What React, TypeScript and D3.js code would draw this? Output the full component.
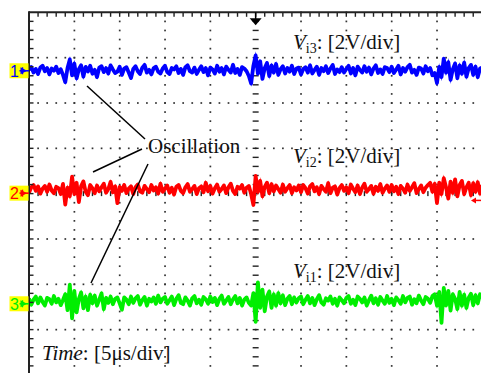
import React from "react";
import * as d3 from "d3";

// ---- data (volts, sampled uniformly over 10 time divisions, 2 V/div) ----
const CH1_VALUES = [
  0.02,0.15,-0.1,0.06,-0.16,0.12,0.2,-0.04,0.1,-0.18,0.08,-0.02,0.16,-0.12,0.05,-0.2,-0.52,0.1,0.48,-0.22,
  0.3,-0.35,0.05,0.22,-0.28,0.15,-0.05,0.2,-0.15,0.02,-0.3,0.12,0.18,-0.08,0.1,-0.14,0.22,0.04,-0.12,-0.06,
  0.16,-0.2,0.08,0.14,-0.1,-0.34,0.06,0.18,-0.04,-0.16,0.12,0.24,-0.1,0.02,-0.18,0.1,0.16,-0.06,-0.14,0.08,
  0.2,-0.08,-0.16,0.1,0.04,0.18,-0.12,0.06,-0.2,0.14,0.22,-0.04,-0.1,0.12,-0.16,0.02,0.18,-0.08,0.1,-0.22,
  0.12,0.04,-0.14,0.2,-0.06,0.1,-0.18,0.16,0.02,-0.1,0.24,-0.12,0.06,-0.2,0.14,0.08,-0.04,-0.25,-0.58,0.2,
  0.66,-0.15,0.4,-0.38,0.1,0.32,-0.25,0.22,-0.1,0.28,-0.2,0.05,0.18,-0.14,0.1,-0.06,0.2,-0.16,0.08,0.12,
  -0.18,0.06,0.14,-0.1,0.22,-0.14,0.02,0.16,-0.2,0.1,-0.04,0.18,-0.12,0.08,0.24,-0.16,0.04,-0.08,0.14,-0.1,
  0.06,0.2,-0.14,0.1,-0.22,0.16,0.02,-0.1,0.18,-0.06,0.12,-0.18,0.08,0.22,-0.12,0.04,-0.16,0.14,0.1,-0.08,
  0.16,-0.12,0.04,0.2,-0.18,0.1,-0.06,0.14,0.24,-0.1,0.02,-0.2,0.12,0.08,-0.14,0.18,-0.04,0.1,-0.22,-0.12,
  -0.56,0.15,-0.3,0.52,-0.1,0.36,-0.42,0.05,0.3,-0.35,0.22,-0.15,0.34,-0.28,0.1,0.24,-0.2,0.16,-0.3,0.08,0.12,
];
const CH2_VALUES = [
  -0.14,0.1,0.2,-0.06,0.14,-0.18,0.04,0.16,-0.1,0.22,-0.04,-0.16,0.12,0.06,-0.2,0.25,-0.66,0.08,-0.3,0.57,
  -0.2,0.3,-0.55,0.15,0.36,-0.1,-0.25,0.2,0.05,-0.16,0.18,-0.08,0.1,0.26,-0.14,0.02,0.34,-0.12,0.14,-0.6,
  0.12,-0.06,0.2,-0.16,0.04,0.14,-0.2,0.1,0.22,-0.08,-0.14,0.16,0.02,-0.12,0.2,-0.04,0.1,-0.18,0.26,-0.1,
  0.04,0.18,-0.14,0.08,-0.22,0.12,0.2,-0.06,-0.16,0.1,0.24,-0.1,0.02,0.16,-0.2,0.06,0.14,-0.12,0.3,-0.08,
  0.16,-0.18,0.06,0.22,-0.1,0.02,0.18,-0.16,0.1,0.26,-0.06,-0.2,0.12,0.04,0.2,-0.14,0.08,0.16,-0.2,-0.68,
  0.6,-0.1,0.38,-0.3,0.12,0.3,-0.16,0.24,-0.08,0.18,0.02,-0.14,0.22,-0.1,0.06,0.2,-0.16,0.1,-0.04,0.18,
  -0.12,0.2,0.06,-0.18,0.14,0.24,-0.08,0.1,-0.2,0.16,0.02,-0.1,0.28,-0.16,0.08,0.14,-0.22,0.06,0.2,-0.06,
  0.1,-0.16,0.22,0.04,-0.12,0.18,-0.2,0.08,0.26,-0.1,0.02,0.16,-0.18,0.12,-0.06,0.24,-0.14,0.04,0.18,-0.1,
  0.2,-0.08,0.12,-0.2,0.16,0.04,-0.14,0.22,-0.06,0.1,0.28,-0.16,0.02,0.18,-0.12,0.08,0.2,0.3,-0.1,0.25,
  -0.6,0.3,-0.2,0.5,0.1,-0.4,0.35,-0.15,0.45,-0.3,0.2,0.38,-0.2,0.1,0.3,-0.25,0.28,-0.1,0.32,-0.18,0.2,
];
const CH3_VALUES = [
  0.12,-0.16,0.06,0.2,-0.1,0.16,-0.04,-0.2,0.14,0.08,-0.12,0.22,-0.06,0.1,-0.18,0.05,0.3,-0.4,0.72,-0.76,
  0.45,-0.5,0.1,0.38,-0.32,0.2,-0.4,0.28,-0.1,0.24,-0.2,0.06,0.34,-0.36,0.14,-0.08,0.2,-0.14,0.1,0.16,
  -0.1,-0.38,0.16,0.06,-0.14,0.2,-0.08,0.12,0.22,-0.16,0.04,0.18,-0.2,0.1,-0.02,0.16,-0.12,0.24,-0.06,0.1,
  0.18,-0.12,0.04,0.2,-0.18,0.1,0.26,-0.08,-0.14,0.16,0.02,-0.2,0.12,0.22,-0.1,0.06,-0.16,0.18,0.08,-0.12,
  0.2,-0.04,0.14,-0.18,0.1,0.24,-0.12,0.02,0.18,-0.14,0.08,0.22,-0.1,0.14,-0.2,0.06,0.16,-0.08,-0.2,0.35,
  -0.92,0.82,-0.3,0.5,-0.45,0.2,0.42,-0.3,0.3,-0.2,0.35,-0.1,0.25,-0.18,0.1,0.22,-0.14,0.16,-0.06,0.12,
  0.2,-0.14,0.06,0.22,-0.1,0.14,-0.18,0.08,0.26,-0.06,-0.16,0.12,0.02,0.2,-0.12,0.1,-0.2,0.16,0.04,-0.1,
  0.14,0.22,-0.12,0.06,-0.18,0.2,0.1,-0.06,0.16,-0.2,0.04,0.24,-0.1,0.12,-0.16,0.18,0.02,-0.12,0.22,-0.08,
  0.1,-0.18,0.16,0.04,-0.12,0.22,-0.06,0.14,0.2,-0.16,0.08,-0.1,0.24,0.02,-0.14,0.18,0.1,-0.08,0.22,0.3,
  -0.2,0.4,-0.96,0.58,-0.2,0.45,-0.42,0.3,0.1,-0.35,0.4,-0.2,0.28,-0.3,0.15,0.32,-0.18,0.26,-0.1,0.3,0.14,
];
const CHANNELS = ["1", "2", "3"];
const CHANNEL_SERIES = [CH1_VALUES, CH2_VALUES, CH3_VALUES];
const CHANNEL_OFFSETS_DIV = [2.72, 0.09, -2.37];
const MARKER_OFFSETS_DIV = [2.71, 0.01, -2.43];
const CHANNEL_LABELS = ["i3", "i2", "i1"];
const LABEL_BASE_DIV = [3.2, 0.67, -1.86];
const VOLTS_PER_DIV = 2;
const TIME_DIVS = 10;
const VOLT_DIVS = 8;

const COLORS = ["#0000ff", "#ff0000", "#00ee00"];

export default function App() {
  const left = 29, top = 12.3, div = 45.33;
  const x = d3.scaleLinear().domain([0, TIME_DIVS]).range([left, left + TIME_DIVS * div]);
  const y = d3.scaleLinear().domain([-VOLT_DIVS / 2, VOLT_DIVS / 2]).range([top + VOLT_DIVS * div, top]);
  const minor = div / 5;

  const dots: JSX.Element[] = [];
  for (let i = 1; i < TIME_DIVS; i++) {
    if (i === 5) continue;
    for (let k = 0; k <= VOLT_DIVS * 5; k++) {
      dots.push(<rect key={`v${i}-${k}`} x={x(i) - 0.8} y={top + k * minor - 0.8} width={1.7} height={1.7} fill="#333" />);
    }
  }
  for (let j = 1; j < VOLT_DIVS; j++) {
    if (j === 4) continue;
    for (let k = 0; k <= TIME_DIVS * 5; k++) {
      dots.push(<rect key={`h${j}-${k}`} x={left + k * minor - 0.8} y={top + j * div - 0.8} width={1.7} height={1.7} fill="#333" />);
    }
  }
  const cx = x(5), cy = y(0);
  const centerTicks: JSX.Element[] = [];
  for (let k = 1; k <= VOLT_DIVS * 5; k++) {
    const yy = top + k * minor;
    centerTicks.push(<rect key={`cv${k}`} x={cx - 3} y={yy - 0.7} width={6} height={1.4} fill="#222" />);
  }
  for (let k = 1; k <= TIME_DIVS * 5; k++) {
    const xx = left + k * minor;
    centerTicks.push(<rect key={`ch${k}`} x={xx - 0.7} y={cy - 2.5} width={1.4} height={5} fill="#222" />);
  }
  const borderTicks: JSX.Element[] = [];
  for (let k = 1; k <= VOLT_DIVS * 5; k++) {
    borderTicks.push(<line key={`lt${k}`} x1={left} x2={left + 4.5} y1={top + k * minor} y2={top + k * minor} stroke="#222" strokeWidth={1.4} />);
  }
  for (let k = 1; k <= TIME_DIVS * 5; k++) {
    borderTicks.push(<line key={`tt${k}`} x1={left + k * minor} x2={left + k * minor} y1={top} y2={top + 4.5} stroke="#222" strokeWidth={1.4} />);
  }

  const traces = CHANNEL_SERIES.map((vals, c) => {
    const xi = d3.scaleLinear().domain([0, vals.length - 1]).range([x(0), x(TIME_DIVS)]);
    const line = d3.line<number>()
      .x((_, i) => xi(i))
      .y((v) => y(CHANNEL_OFFSETS_DIV[c] + v / VOLTS_PER_DIV))
      .curve(d3.curveLinear);
    return (
      <g key={c}>
        <path d={line(vals) || ""} fill="none" stroke={COLORS[c]} strokeWidth={3.8} strokeLinejoin="round" />
        <path d={line(vals) || ""} fill="none" stroke={COLORS[c]} strokeWidth={1.4} strokeLinejoin="miter" strokeMiterlimit={6} />
      </g>
    );
  });

  const serif = "'Liberation Serif', 'Times New Roman', serif";

  return (
    <svg width={481} height={373} style={{ position: "absolute", left: 0, top: 0, background: "#fff" }}>
      <rect x={0} y={0} width={481} height={373} fill="#fff" />
      {dots}
      {centerTicks}
      {traces}
      {borderTicks}
      <line x1={left} x2={left} y1={top - 1} y2={373} stroke="#222" strokeWidth={2} />
      <line x1={left} x2={481} y1={top} y2={top} stroke="#222" strokeWidth={2} />
      {/* trigger marker */}
      <line x1={cx} x2={cx} y1={top} y2={top + 7} stroke="#000" strokeWidth={1.5} />
      <path d={`M${cx - 6},${top + 6} L${cx + 6},${top + 6} L${cx},${top + 13} Z`} fill="#000" />
      {/* trigger level marker on right */}
      <path d={`M471,${y(-0.15)} L476,${y(-0.15) - 3} L476,${y(-0.15) + 3} Z`} fill="#ff0000" />
      <line x1={475} x2={481} y1={y(-0.15)} y2={y(-0.15)} stroke="#ff0000" strokeWidth={1.5} />
      {/* channel markers */}
      {CHANNELS.map((ch, c) => {
        const my = y(MARKER_OFFSETS_DIV[c]);
        return (
          <g key={ch}>
            <rect x={9.5} y={my - 7.5} width={19} height={15} fill="#ffff00" />
            <text x={10} y={my + 6} fontFamily="'Liberation Sans', Arial, sans-serif" fontSize={16} fill={COLORS[c]}>{ch}</text>
            <path d={`M20.5,${my - 3.5} L27,${my} L20.5,${my + 3.5} Z`} fill={COLORS[c]} />
            <line x1={19.5} x2={29} y1={my} y2={my} stroke={COLORS[c]} strokeWidth={1.6} />
            <line x1={22.5} x2={22.5} y1={my - 3.5} y2={my + 3.5} stroke={COLORS[c]} strokeWidth={1.4} />
          </g>
        );
      })}
      {/* channel scale labels */}
      {CHANNEL_LABELS.map((lab, c) => (
        <text key={lab} x={293} y={y(LABEL_BASE_DIV[c])} fontFamily={serif} fontSize={21} fill="#111">
          <tspan fontStyle="italic">V</tspan>
          <tspan fontSize={14} dy={4}>{lab}</tspan>
          <tspan dy={-4}>: [2V/div]</tspan>
        </text>
      ))}
      {/* annotation */}
      <text x={148} y={153} fontFamily={serif} fontSize={21} fill="#111">Oscillation</text>
      <g stroke="#000" strokeWidth={1.5}>
        <line x1={87} y1={86} x2={145} y2={139} />
        <line x1={93} y1={172} x2={142} y2={149} />
        <line x1={148} y1={164} x2={91} y2={283} />
      </g>
      <text x={42} y={360} fontFamily={serif} fontSize={21} fill="#111">
        <tspan fontStyle="italic">Time</tspan>
        <tspan>: [5μs/div]</tspan>
      </text>
    </svg>
  );
}
